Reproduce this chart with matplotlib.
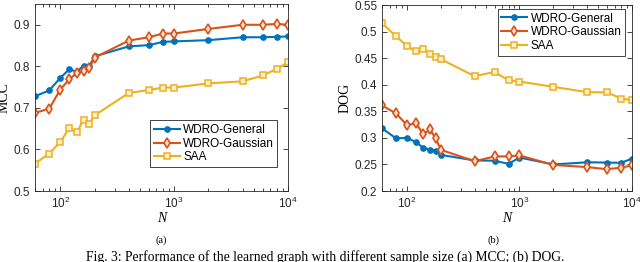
import numpy as np
import matplotlib
matplotlib.use("Agg")
import matplotlib.pyplot as plt
from matplotlib.ticker import LogLocator, NullFormatter

# sample sizes
N = [60, 80, 100, 120, 140, 160, 180, 200, 400, 600, 800, 1000,
     2000, 4000, 6000, 8000, 10000]

# (a) MCC
mcc_general = [0.728, 0.742, 0.772, 0.793, 0.787, 0.802, 0.800, 0.824,
               0.848, 0.851, 0.859, 0.860, 0.863, 0.870, 0.870, 0.871, 0.872]
mcc_gaussian = [0.688, 0.698, 0.744, 0.769, 0.784, 0.788, 0.796, 0.821,
                0.862, 0.870, 0.879, 0.879, 0.890, 0.900, 0.900, 0.902, 0.900]
mcc_saa = [0.566, 0.590, 0.618, 0.651, 0.641, 0.672, 0.662, 0.682,
           0.736, 0.743, 0.749, 0.749, 0.759, 0.764, 0.778, 0.794, 0.810]

# (b) DOG
dog_general = [0.318, 0.299, 0.300, 0.292, 0.281, 0.2775, 0.276, 0.268,
               0.2575, 0.257, 0.251, 0.263, 0.250, 0.254, 0.2535, 0.253, 0.261]
dog_gaussian = [0.361, 0.346, 0.324, 0.3275, 0.307, 0.316, 0.299, 0.2775,
                0.256, 0.265, 0.265, 0.267, 0.249, 0.245, 0.241, 0.244, 0.248]
dog_saa = [0.516, 0.491, 0.473, 0.463, 0.467, 0.4575, 0.4525, 0.448,
           0.416, 0.424, 0.408, 0.406, 0.396, 0.386, 0.3856, 0.374, 0.371]

labels = ['WDRO-General', 'WDRO-Gaussian', 'SAA']
colors = ['#0072BD', '#D95319', '#EDB120']

plt.rcParams['font.family'] = ['Liberation Sans', 'DejaVu Sans']
plt.rcParams['font.size'] = 8.5

fig = plt.figure(figsize=(6.4, 2.62), dpi=100)
W, H = 640.0, 262.0
ax1 = fig.add_axes([35 / W, 1 - 191 / H, (288 - 35) / W, (191 - 4) / H])
ax2 = fig.add_axes([382 / W, 1 - 191 / H, (632 - 382) / W, (191 - 5) / H])


def draw(ax, series, ylim, yticks, ylabel, legend_loc, legend_anchor):
    ax.plot(N, series[0], '-o', color=colors[0], lw=1.5, ms=3.8,
            mfc=colors[0], mec=colors[0], label=labels[0])
    ax.plot(N, series[1], '-d', color=colors[1], lw=1.5, ms=5,
            mfc='#f8e0d4', mec=colors[1], mew=1.2, label=labels[1])
    ax.plot(N, series[2], '-s', color=colors[2], lw=1.5, ms=4.2,
            mfc='#fcf0cf', mec=colors[2], mew=1.1, label=labels[2])
    ax.set_xscale('log')
    ax.set_xlim(60, 10000)
    ax.set_ylim(*ylim)
    ax.set_yticks(yticks)
    ax.set_yticklabels(['%g' % t for t in yticks])
    ax.xaxis.set_major_locator(LogLocator(base=10, numticks=10))
    ax.xaxis.set_minor_locator(LogLocator(base=10, subs=np.arange(2, 10), numticks=10))
    ax.xaxis.set_minor_formatter(NullFormatter())
    ax.tick_params(which='both', direction='in', top=True, right=True,
                   colors='#262626', labelcolor='#262626', width=0.6)
    ax.tick_params(which='major', length=3.5, labelsize=8.5)
    ax.tick_params(which='minor', length=2)
    for s in ax.spines.values():
        s.set_color('#262626')
        s.set_linewidth(0.6)
    ax.set_xlabel('N', family=['Liberation Serif'], style='italic',
                  fontsize=10, labelpad=1)
    ax.set_ylabel(ylabel, family=['Liberation Serif'], fontsize=10, labelpad=2)
    leg = ax.legend(loc=legend_loc, bbox_to_anchor=legend_anchor,
                    fancybox=False, framealpha=1, edgecolor='#262626',
                    fontsize=8.5, handlelength=2.2, handletextpad=0.3,
                    borderpad=0.3, labelspacing=0.15, borderaxespad=0)
    leg.get_frame().set_linewidth(0.6)


draw(ax1, [mcc_general, mcc_gaussian, mcc_saa], (0.5, 0.95),
     [0.5, 0.6, 0.7, 0.8, 0.9], 'MCC', 'lower left',
     ((150 - 35) / (288 - 35), (191 - 167) / (191 - 4)))
draw(ax2, [dog_general, dog_gaussian, dog_saa], (0.2, 0.55),
     [0.2, 0.25, 0.3, 0.35, 0.4, 0.45, 0.5, 0.55], 'DOG', 'upper right',
     ((625 - 382) / (632 - 382), (191 - 9) / (191 - 5)))

fig.text(161 / W, 1 - 240 / H, '(a)', family=['Liberation Serif'],
         fontsize=7.5, ha='center', va='center')
fig.text(494 / W, 1 - 240 / H, '(b)', family=['Liberation Serif'],
         fontsize=7.5, ha='center', va='center')
fig.text(325 / W, 1 - 257 / H,
         'Fig. 3: Performance of the learned graph with different sample size (a) MCC; (b) DOG.',
         family=['Liberation Serif'], fontsize=9.8, ha='center', va='center')

fig.savefig('out.png', dpi=100)
